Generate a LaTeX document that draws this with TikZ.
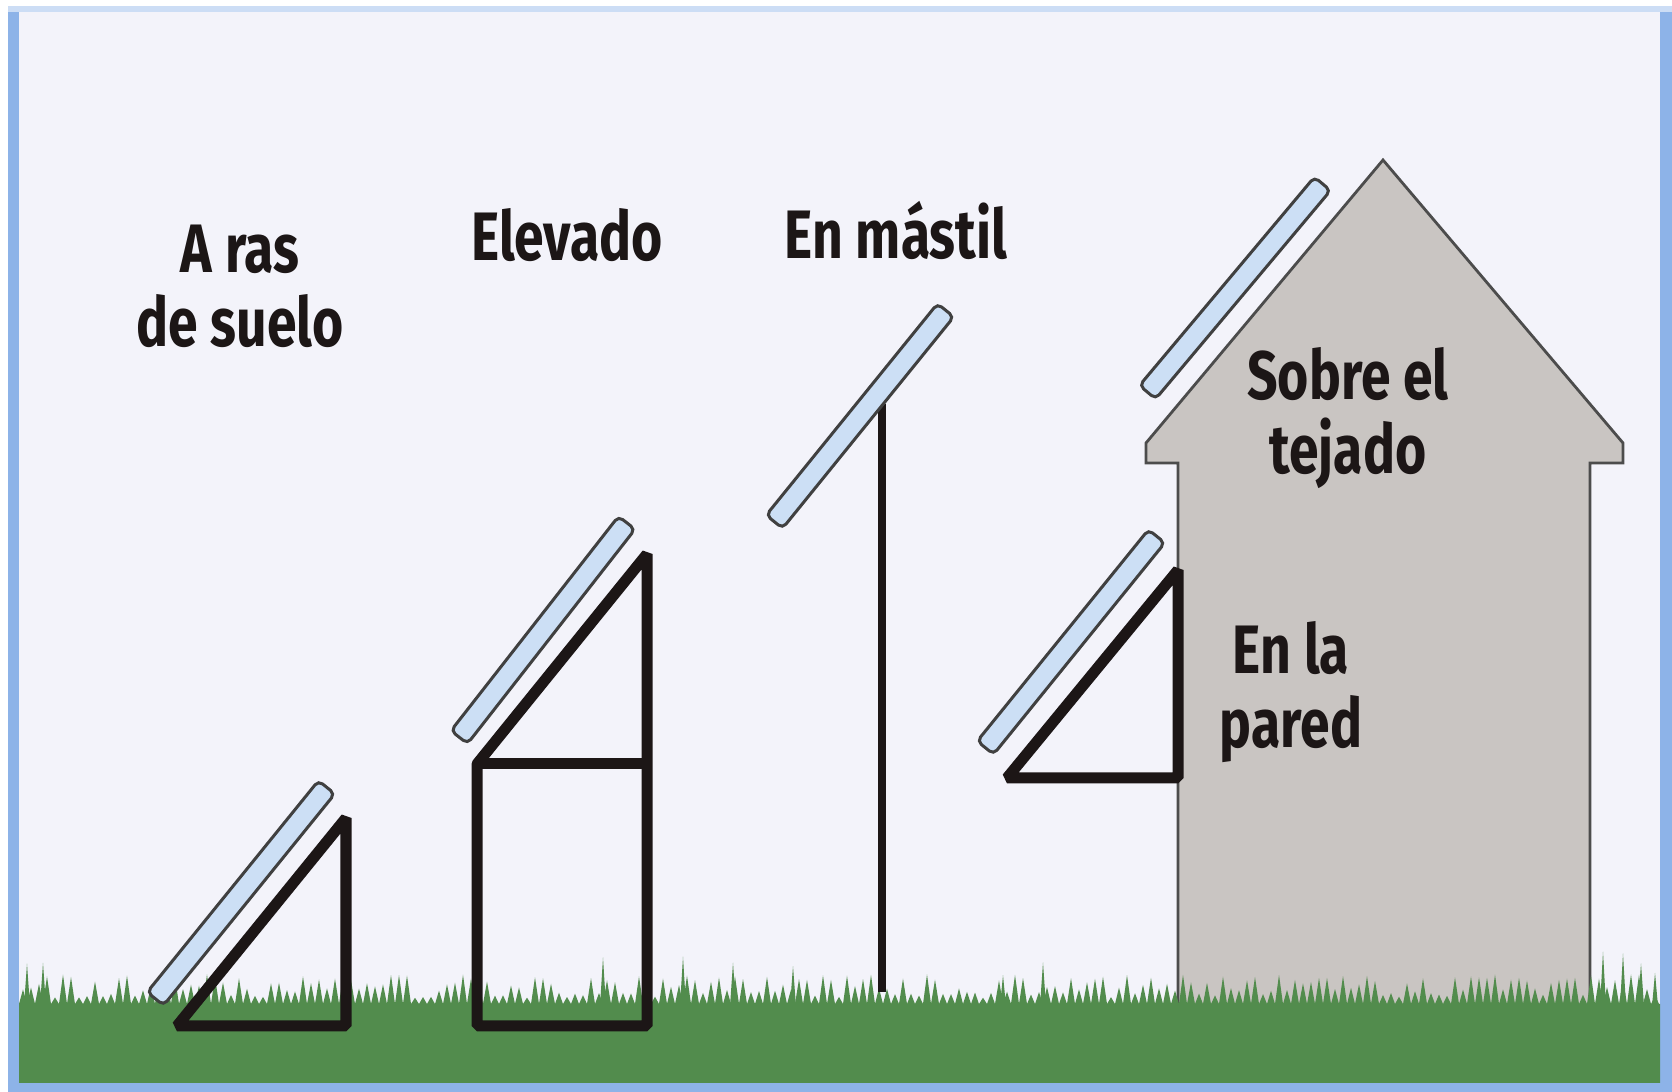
\documentclass[tikz,border=0pt]{standalone}
\usepackage{fontspec}
\newfontfamily\labelfont{Fira Sans}[FakeStretch=0.78]
\usetikzlibrary{positioning}
\definecolor{sky}{HTML}{F3F3FA}
\definecolor{rim}{HTML}{8DB3E8}
\definecolor{grass}{HTML}{528C4D}
\definecolor{wall}{HTML}{C9C5C2}
\definecolor{glass}{HTML}{CCDFF5}
\definecolor{ink}{HTML}{1C1616}
\tikzstyle{lbl}=[font=\labelfont\bfseries\fontsize{19.5}{21}\selectfont, align=center,
                 text=ink, inner sep=0pt]
\tikzstyle{panel}=[rectangle, rounded corners=1.5pt, draw=black!75, fill=glass,
                   line width=0.3mm, minimum width=2.72cm, minimum height=0.21cm, inner sep=0pt]
\tikzstyle{support}=[draw=ink, line width=1.1mm, line join=bevel]
\tikzstyle{house}=[fill=wall, draw=black!70, line width=0.28mm, line join=miter]

\begin{document}
\begin{tikzpicture}[x=0.01cm, y=-0.01cm]
\useasboundingbox (0,0) rectangle (1672,1092);
\fill[white] (0,0) rectangle (1672,1092);
\fill[rim!45] (8,6) rectangle (1672,1092);
\fill[rim] (8,12) rectangle (1672,1092);
\fill[sky] (19,12) rectangle (1660,1083);

% house
\draw[house] (1178,1010) -- (1178,463) -- (1146,463) -- (1146,443) -- (1383,160)
  -- (1623,443) -- (1623,463) -- (1590,463) -- (1590,1010);

% grass
\pgfmathsetseed{12}
\fill[grass] (19,1083) -- (19,1004)
  \foreach \x [evaluate=\x as \h using 6+24*rnd] in {19,27,...,1651}
    { -- (\x,1004) -- ++(4,-\h) -- ++(4,\h) }
  -- (1660,1004) -- (1660,1083) -- cycle;
\foreach \x [evaluate=\x as \h using 25+30*rnd] in {24,40,60,600,680,730,790,1000,1040,1600,1620,1638,1652}
  \fill[grass] (\x,1006) -- ++(3,-\h) -- ++(3,\h) -- cycle;

% A ras de suelo
\coordinate (s1a) at (177,1026);
\coordinate (s1b) at (346,818);
\coordinate (s1c) at (346,1026);
\draw[support] (s1a) -- (s1b) -- (s1c) -- cycle;

% Elevado
\coordinate (s2a) at (477,764);
\coordinate (s2b) at (647,554);
\coordinate (s2c) at (647,764);
\coordinate (s2d) at (647,1026);
\coordinate (s2e) at (477,1026);
\draw[support] (s2e) -- (s2a) -- (s2b) -- (s2d) -- cycle;
\draw[support] (s2a) -- (s2c);

% En mastil
\coordinate (s3a) at (882,404);
\coordinate (s3b) at (882,992);
\draw[support, line width=0.85mm] (s3a) -- (s3b);

% En la pared
\coordinate (s5a) at (1007,778);
\coordinate (s5b) at (1178,570);
\coordinate (s5c) at (1178,778);
\draw[support] (s5a) -- (s5b) -- (s5c) -- cycle;

% panels
\node[panel, rotate=51] (p1) at (241,893) {};
\node[panel, rotate=52] (p2) at (543,630) {};
\node[panel, rotate=51] (p3) at (860,416) {};
\node[panel, rotate=50] (p4) at (1235,288) {};
\node[panel, rotate=51] (p5) at (1071,642) {};

% labels
\node[lbl] (l1) at (240,286) {A ras\\de suelo};
\node[lbl, anchor=base] (l2) at (567,261) {Elevado};
\node[lbl, anchor=base] (l3) at (896,259) {En m\'astil};
\node[lbl] (l4) at (1348,418) {Sobre el\\tejado};
\node[lbl] (l5) at (1291,692) {En la\\pared};
\end{tikzpicture}
\end{document}
